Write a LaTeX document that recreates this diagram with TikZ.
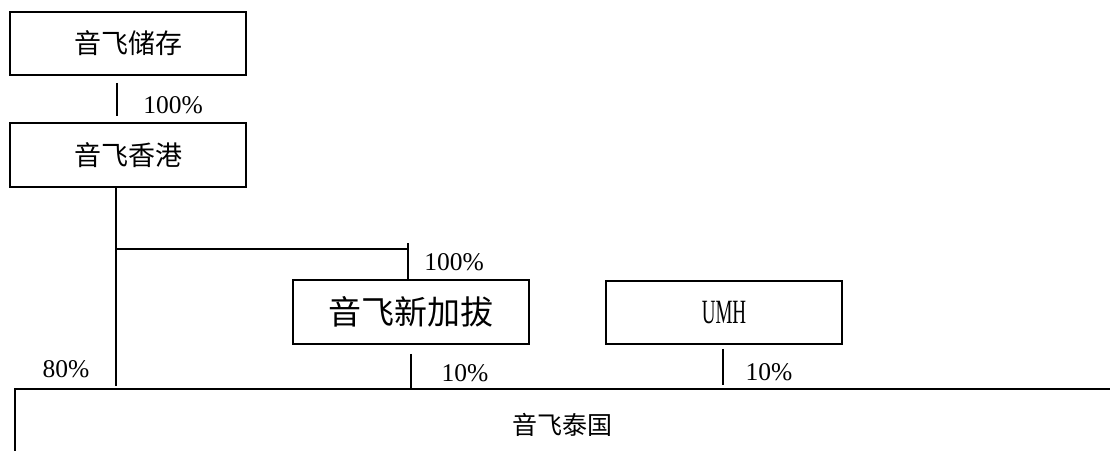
\documentclass[tikz,border=0pt]{standalone}
\usepackage{graphicx}
\usepackage{fontspec}
\setmainfont{Liberation Serif}
\newfontfamily\cjk{Noto Sans CJK SC}
\usetikzlibrary{calc}
\tikzset{
  box/.style={draw, line width=1.6pt, inner sep=0pt, minimum width=236pt, minimum height=64pt},
  conn/.style={line width=1.4pt},
  pct/.style={inner sep=0pt, font=\fontsize{25.5}{30}\selectfont},
  cjka/.style={font=\cjk\fontsize{27}{32}\selectfont},
  cjkb/.style={font=\cjk\fontsize{33}{38}\selectfont},
  cjkc/.style={font=\cjk\fontsize{25}{30}\selectfont}
}
\begin{document}
\begin{tikzpicture}[x=1pt,y=-1pt]
\useasboundingbox (0,0) rectangle (1110,450);
% boxes
\node[box, cjka, minimum height=63pt] (chucun) at (128,43.5) {音飞储存};
\node[box, cjka] (xianggang) at (128,155) {音飞香港};
\node[box, cjkb] (xinjiapo) at (411,312) {音飞新加拔};
\node[box, minimum height=63pt] (umh) at (724,312.5) {\scalebox{0.56}[1]{\fontsize{34}{38}\selectfont UMH}};
\node[cjkc, minimum width=1095pt, minimum height=71pt, inner sep=0pt] (taiguo) at (562.5,424.5) {音飞泰国};
\draw[line width=1.6pt] (taiguo.south west) -- (taiguo.north west) -- (taiguo.north east);
% connectors
\draw[conn] ($(chucun.south)+(-11pt,-7pt)$) -- ($(xianggang.north)+(-11pt,6pt)$);
\draw[conn] ($(xianggang.south)+(-12pt,0pt)$) -- ($(xianggang.south |- taiguo.north)+(-12pt,3pt)$);
\draw[conn] ($(xianggang.south)+(-12pt,-61pt)$) -| ($(xinjiapo.north)+(-3pt,0pt)$);
\draw[conn] ($(xinjiapo.north)+(-3pt,36pt)$) -- ($(xinjiapo.north)+(-3pt,30pt)$);
\draw[conn] ($(xinjiapo.south)+(0pt,-9pt)$) -- (xinjiapo.south |- taiguo.north);
\draw[conn] ($(umh.south)+(-1pt,-4pt)$) -- ($(umh.south |- taiguo.north)+(-1pt,4pt)$);
% labels
\node[pct] (l1) at (173,105) {100\%};
\node[pct] (l2) at (454,262) {100\%};
\node[pct] (l3) at (66,369) {80\%};
\node[pct] (l4) at (465,373) {10\%};
\node[pct] (l5) at (769,372) {10\%};
\end{tikzpicture}
\end{document}
